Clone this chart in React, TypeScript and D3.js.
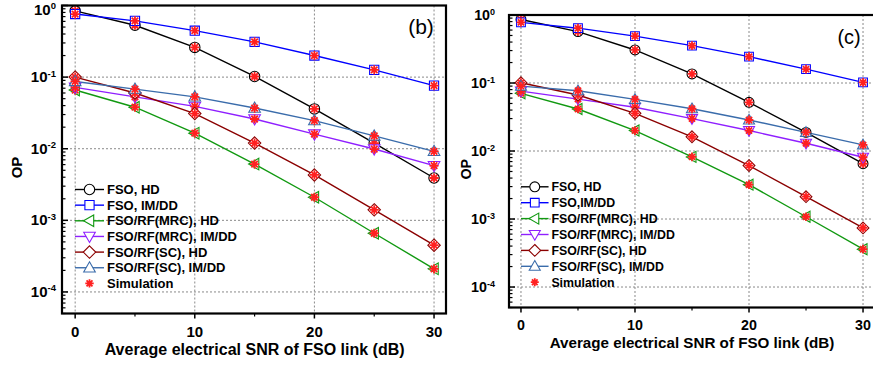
import * as d3 from 'd3';

// x values shared by every curve (dB)
const snr = [0, 5, 10, 15, 20, 25, 30];

// panel (b)
const bFsoHd = [0.84, 0.53, 0.26, 0.102, 0.036, 0.012, 0.0039];
const bFsoImdd = [0.76, 0.61, 0.445, 0.31, 0.2, 0.126, 0.076];
const bMrcHd = [0.066, 0.038, 0.0165, 0.0061, 0.0021, 0.00066, 0.00021];
const bMrcImdd = [0.072, 0.053, 0.039, 0.026, 0.016, 0.0099, 0.0058];
const bScHd = [0.1, 0.06, 0.031, 0.012, 0.0043, 0.0014, 0.00045];
const bScImdd = [0.087, 0.068, 0.053, 0.037, 0.0247, 0.0151, 0.0092];

// panel (c)
const cFsoHd = [0.86, 0.57, 0.306, 0.136, 0.052, 0.0188, 0.0065];
const cFsoImdd = [0.78, 0.64, 0.49, 0.354, 0.244, 0.16, 0.102];
const cMrcHd = [0.0705, 0.0415, 0.02, 0.0082, 0.0032, 0.00108, 0.00036];
const cMrcImdd = [0.076, 0.058, 0.044, 0.03, 0.02, 0.013, 0.0081];
const cScHd = [0.101, 0.0667, 0.0358, 0.0162, 0.0061, 0.00213, 0.00074];
const cScImdd = [0.09, 0.077, 0.0575, 0.0418, 0.0286, 0.0188, 0.0123];

const labelsB = ['FSO, HD', 'FSO, IM/DD', 'FSO/RF(MRC), HD', 'FSO/RF(MRC), IM/DD', 'FSO/RF(SC), HD', 'FSO/RF(SC), IM/DD'];
const labelsC = ['FSO, HD', 'FSO,IM/DD', 'FSO/RF(MRC), HD', 'FSO/RF(MRC), IM/DD', 'FSO/RF(SC), HD', 'FSO/RF(SC), IM/DD'];
const colors = ['#000000', '#0000ff', '#119911', '#8f1fff', '#8b0000', '#3a6cab'];
const shapes = ['circle', 'square', 'left', 'down', 'diamond', 'up'];
const xTicks = [0, 10, 20, 30];
const xMinor = [5, 15, 25];
const yDecades = [1e-4, 1e-3, 1e-2, 1e-1, 1];

const FONT = '"Liberation Sans", Arial, sans-serif';
const SIM = '#ff2020';

function markerPath(shape: string, s: number) {
  switch (shape) {
    case 'circle': return d3.symbol(d3.symbolCircle, Math.PI * 5.2 * 5.2 * s * s)();
    case 'square': return `M${-4.6 * s},${-4.6 * s}h${9.2 * s}v${9.2 * s}h${-9.2 * s}Z`;
    case 'diamond': return `M0,${-6.2 * s}L${6.2 * s},0L0,${6.2 * s}L${-6.2 * s},0Z`;
    case 'up': return `M0,${-6 * s}L${5.8 * s},${4.2 * s}L${-5.8 * s},${4.2 * s}Z`;
    case 'down': return `M0,${6 * s}L${5.8 * s},${-4.2 * s}L${-5.8 * s},${-4.2 * s}Z`;
    default: return `M${-6 * s},0L${4.2 * s},${-5.8 * s}L${4.2 * s},${5.8 * s}Z`;
  }
}

function Star({ x, y, r }: { x: number; y: number; r: number }) {
  const d = [0, 45, 90, 135].map(a => {
    const c = Math.cos((a * Math.PI) / 180) * r, s = Math.sin((a * Math.PI) / 180) * r;
    return `M${x - c},${y - s}L${x + c},${y + s}`;
  }).join('');
  return <path d={d} stroke={SIM} strokeWidth={1.8} fill="none" />;
}

function Panel(p: any) {
  const { left, right, top, bottom, xDom, series, labels, k, tag, tagX, tagY, labelGap, opX, legX, legY, legStep, titleY, tickY } = p;
  const x = d3.scaleLinear().domain(xDom).range([left, right]);
  const y = d3.scaleLog().domain([1, 5e-5]).range([top, bottom]);
  const line = d3.line<number>().x((_, i) => x(snr[i])).y(v => y(v));
  const minors: number[] = [];
  for (let e = -5; e < 0; e++) for (let m = 2; m <= 9; m++) {
    const v = m * Math.pow(10, e);
    if (v >= 5e-5 && v < 1) minors.push(v);
  }
  const grid = { stroke: '#8a8a8a', strokeWidth: 1, strokeDasharray: '2,2' };
  return (
    <g fontFamily={FONT} fontWeight="bold">
      {xTicks.map(t => <line key={'gx' + t} x1={x(t)} x2={x(t)} y1={top} y2={bottom} {...grid} />)}
      {yDecades.slice(0, 4).map(t => <line key={'gy' + t} x1={left} x2={right} y1={y(t)} y2={y(t)} {...grid} />)}
      {series.map((vals: number[], i: number) => (
        <path key={'l' + i} d={line(vals) || ''} fill="none" stroke={colors[i]} strokeWidth={1.4} />
      ))}
      {series.map((vals: number[], i: number) => vals.map((v, j) => (
        <g key={`m${i}-${j}`}>
          <path d={markerPath(shapes[i], k) || ''} transform={`translate(${x(snr[j])},${y(v)})`} fill="#fff" stroke={colors[i]} strokeWidth={1.1} />
          <Star x={x(snr[j])} y={y(v)} r={4.6 * k} />
        </g>
      )))}
      <rect x={left} y={top} width={right - left} height={bottom - top} fill="none" stroke="#000" strokeWidth={2.2} />
      {/* y axis ticks (inside) */}
      {yDecades.map(t => <line key={'yt' + t} x1={left} x2={left + 6} y1={y(t)} y2={y(t)} stroke="#000" strokeWidth={1.5} />)}
      {minors.map(t => <line key={'ym' + t} x1={left} x2={left + 3.5} y1={y(t)} y2={y(t)} stroke="#000" strokeWidth={1.2} />)}
      {yDecades.map(t => (
        <text key={'yl' + t} x={left - labelGap} y={Math.max(y(t) + 5 * k, 14.5)} textAnchor="end" fontSize={15 * k}>
          10<tspan fontSize={9.5 * k} dy={-5.5 * k}>{Math.round(Math.log10(t))}</tspan>
        </text>
      ))}
      {/* x axis ticks (outside) */}
      {xTicks.map(t => <line key={'xt' + t} x1={x(t)} x2={x(t)} y1={bottom} y2={bottom + 5} stroke="#000" strokeWidth={1.5} />)}
      {xMinor.map(t => <line key={'xm' + t} x1={x(t)} x2={x(t)} y1={bottom} y2={bottom + 3} stroke="#000" strokeWidth={1.2} />)}
      {xTicks.map(t => (
        <text key={'xl' + t} x={x(t)} y={tickY} textAnchor="middle" fontSize={15 * k}>{t}</text>
      ))}
      <text x={x(15)} y={titleY} textAnchor="middle" fontSize={16 * k}>Average electrical SNR of FSO link (dB)</text>
      <text transform={`translate(${opX},${(top + bottom) / 2 + 8}) rotate(-90)`} textAnchor="middle" fontSize={15 * k}>OP</text>
      <text x={tagX} y={tagY} textAnchor="middle" fontSize={21 * k} fontWeight="normal">{tag}</text>
      {/* legend */}
      {labels.map((lab: string, i: number) => {
        const ly = legY + i * legStep;
        return (
          <g key={'lg' + i}>
            <line x1={legX} x2={legX + 29 * k} y1={ly} y2={ly} stroke={colors[i]} strokeWidth={1.4} />
            <path d={markerPath(shapes[i], k) || ''} transform={`translate(${legX + 14.5 * k},${ly})`} fill="#fff" stroke={colors[i]} strokeWidth={1.1} />
            <text x={legX + 32 * k} y={ly + 4.6} fontSize={13 * k}>{lab}</text>
          </g>
        );
      })}
      <Star x={legX + 14.5 * k} y={legY + 6 * legStep} r={4.2 * k} />
      <text x={legX + 32 * k} y={legY + 6 * legStep + 4.6} fontSize={13 * k}>Simulation</text>
    </g>
  );
}

export default function App() {
  return (
    <svg width={873} height={368} style={{ position: 'absolute', left: 0, top: 0, background: '#fff' }}>
      <Panel left={62} right={446} top={5.5} bottom={313.5} xDom={[-1.1, 31]} k={1}
        series={[bFsoHd, bFsoImdd, bMrcHd, bMrcImdd, bScHd, bScImdd]} labels={labelsB}
        tag="(b)" tagX={421} tagY={34} labelGap={6} opX={22} legX={75} legY={189.5} legStep={15.65}
        titleY={355} tickY={337} />
      <Panel left={509} right={875} top={15} bottom={307.5} xDom={[-1.05, 31.05]} k={0.95}
        series={[cFsoHd, cFsoImdd, cMrcHd, cMrcImdd, cScHd, cScImdd]} labels={labelsC}
        tag="(c)" tagX={849} tagY={44} labelGap={14} opX={471} legX={521} legY={186.8} legStep={15.9}
        titleY={348} tickY={330} />
    </svg>
  );
}
